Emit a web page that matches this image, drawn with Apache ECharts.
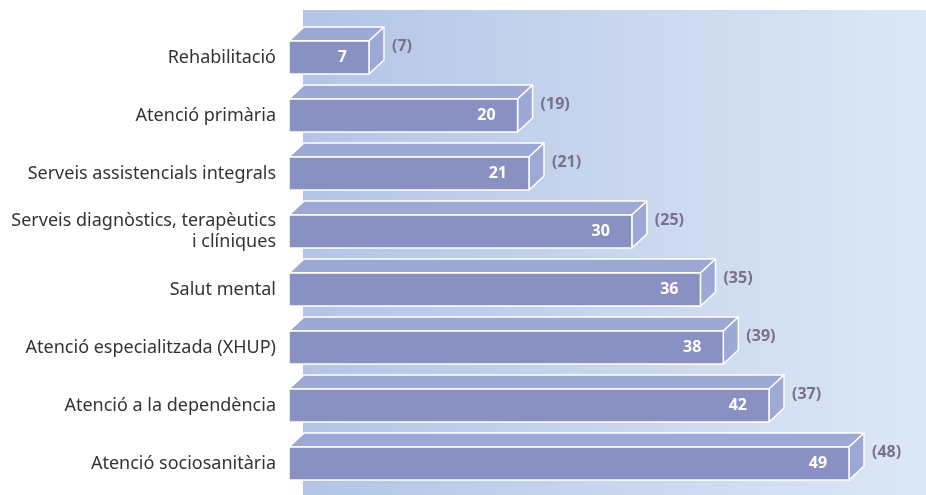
<!DOCTYPE html>
<html>
<head>
<meta charset="utf-8">
<script src="https://cdn.jsdelivr.net/npm/echarts@6/dist/echarts.min.js"></script>
<style>
html,body{margin:0;padding:0;background:#fff;}
#chart{width:926px;height:495px;}
</style>
</head>
<body>
<div id="chart"></div>
<script>
const categories = [
  'Rehabilitació',
  'Atenció primària',
  'Serveis assistencials integrals',
  'Serveis diagnòstics, terapèutics\ni clíniques',
  'Salut mental',
  'Atenció especialitzada (XHUP)',
  'Atenció a la dependència',
  'Atenció sociosanitària'
];
const currentValues = [7, 20, 21, 30, 36, 38, 42, 49];
const previousValues = [7, 19, 21, 25, 35, 39, 37, 48];

const chart = echarts.init(document.getElementById('chart'));

const DX = 15, DY = 14, HALF = 16.5;
const FRONT = '#8891c2', TOP = '#9ea8d4', SIDE = '#9ea8d4';

function renderItem(params, api) {
  const idx = api.value(0);
  const v = api.value(1);
  const prev = api.value(2);
  const p0 = api.coord([0, idx]);
  const p1 = api.coord([v, idx]);
  const x0 = p0[0], x1 = p1[0], yc = p0[1];
  const yt = yc - HALF, yb = yc + HALF;
  const stroke = {stroke: '#ffffff', lineWidth: 1.5, lineJoin: 'round'};
  return {
    type: 'group',
    children: [
      {type: 'polygon', shape: {points: [[x0, yt], [x0 + DX, yt - DY], [x1 + DX, yt - DY], [x1, yt]]},
        style: Object.assign({fill: TOP}, stroke)},
      {type: 'polygon', shape: {points: [[x1, yt], [x1 + DX, yt - DY], [x1 + DX, yb - DY], [x1, yb]]},
        style: Object.assign({fill: SIDE}, stroke)},
      {type: 'rect', shape: {x: x0, y: yt, width: x1 - x0, height: yb - yt},
        style: Object.assign({fill: FRONT}, stroke)},
      {type: 'text', style: {text: String(v), x: x1 - 22, y: yc, align: 'right', verticalAlign: 'middle',
        fill: '#ffffff', font: 'bold 16px "Open Sans", "Noto Sans", sans-serif'}},
      {type: 'text', style: {text: '(' + prev + ')', x: x1 + DX + 8, y: yt + 5, align: 'left', verticalAlign: 'middle',
        fill: '#7a6f8c', font: 'bold 16px "Open Sans", "Noto Sans", sans-serif'}}
    ]
  };
}

const data = categories.map((c, i) => [i, currentValues[i], previousValues[i]]);

chart.setOption({
  animation: false,
  graphic: [{
    type: 'rect', z: -10, silent: true,
    shape: {x: 303, y: 10, width: 623, height: 485},
    style: {fill: new echarts.graphic.LinearGradient(0, 0, 1, 0, [
      {offset: 0, color: '#b3c4e6'}, {offset: 1, color: '#dde8f6'}
    ])}
  }],
  grid: {left: 289, right: 8.4, top: 28.5, bottom: 2.5, containLabel: false},
  xAxis: {type: 'value', min: 0, max: 55, show: false},
  yAxis: {
    type: 'category', data: categories, inverse: true,
    axisLine: {show: false}, axisTick: {show: false}, splitLine: {show: false},
    axisLabel: {margin: 13, color: '#333333', fontSize: 18, fontFamily: '"Noto Sans", "Open Sans", sans-serif',
      lineHeight: 21, align: 'right'}
  },
  series: [{
    type: 'custom', renderItem: renderItem, data: data,
    encode: {x: 1, y: 0}, clip: false
  }]
});
</script>
</body>
</html>
